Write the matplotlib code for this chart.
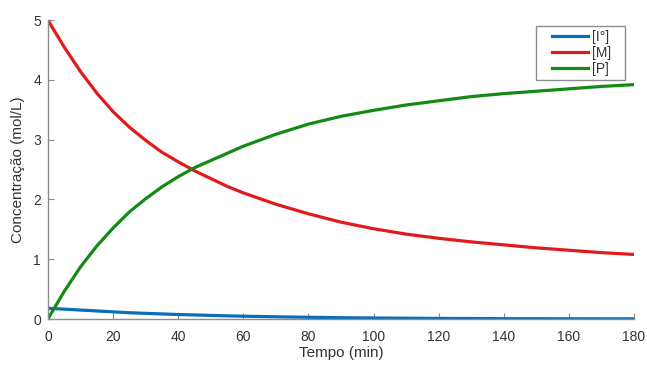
import matplotlib
matplotlib.use("Agg")
import matplotlib.pyplot as plt
from matplotlib.patches import Rectangle

# valores (tempo em min, concentracoes em mol/L)
t = [0, 5, 10, 15, 20, 25, 30, 35, 40, 45, 50, 55, 60,
     70, 80, 90, 100, 110, 120, 130, 140, 150, 160, 170, 180]
I0 = [0.18, 0.165, 0.15, 0.135, 0.12, 0.105, 0.095, 0.085, 0.075, 0.068, 0.06, 0.053, 0.047,
      0.037, 0.029, 0.022, 0.017, 0.013, 0.01, 0.008, 0.006, 0.005, 0.004, 0.003, 0.003]
M = [5.0, 4.55, 4.14, 3.78, 3.47, 3.21, 2.99, 2.79, 2.63, 2.48, 2.35, 2.22, 2.11,
     1.92, 1.76, 1.62, 1.51, 1.42, 1.35, 1.29, 1.24, 1.19, 1.15, 1.11, 1.08]
P = [0.0, 0.46, 0.87, 1.22, 1.52, 1.79, 2.01, 2.21, 2.38, 2.53, 2.65, 2.77, 2.89,
     3.09, 3.26, 3.39, 3.49, 3.58, 3.65, 3.72, 3.77, 3.81, 3.85, 3.89, 3.92]
labels = ['[I\u00b0]', '[M]', '[P]']

plt.rcParams['font.family'] = ['Liberation Sans', 'DejaVu Sans']

fig = plt.figure(figsize=(6.47, 3.65), dpi=100)
ax = fig.add_axes([0.074, 0.126, 0.906, 0.819])

ax.plot(t, I0, color='#0a6db8', lw=2.3, label=labels[0])
ax.plot(t, M, color='#e01b1b', lw=2.3, label=labels[1])
ax.plot(t, P, color='#138a13', lw=2.3, label=labels[2])

ax.set_xlim(0, 180)
ax.set_ylim(0, 5)
ax.set_xticks(range(0, 181, 20))
ax.set_yticks(range(0, 6))

for s in ['top', 'right']:
    ax.spines[s].set_visible(False)
for s in ['left', 'bottom']:
    ax.spines[s].set_color('#8c8c8c')
    ax.spines[s].set_linewidth(1.0)

ax.tick_params(direction='in', length=4, color='#8c8c8c', labelsize=10, labelcolor='#333333')
ax.tick_params(axis='x', pad=8)
ax.tick_params(axis='y', pad=5)
ax.set_xlabel('Tempo (min)', fontsize=11, color='#333333', labelpad=1.5)
ax.set_ylabel('Concentração (mol/L)', fontsize=11, color='#333333', labelpad=6)

# legenda sem moldura; moldura desenhada a parte (mais larga dos lados)
leg = ax.legend(loc='upper right', bbox_to_anchor=(611 / 647, 1 - 30 / 365),
                bbox_transform=fig.transFigure, fontsize=10, frameon=False,
                handlelength=2.6, handletextpad=0.3, borderpad=0,
                labelspacing=0.15, borderaxespad=0)
for txt in leg.get_texts():
    txt.set_color('#333333')

fig.canvas.draw()
bb = leg.get_window_extent()
x0, y0 = fig.transFigure.inverted().transform((bb.x0 - 16, bb.y0 - 4))
x1, y1 = fig.transFigure.inverted().transform((bb.x1 + 14, bb.y1 + 4))
fig.add_artist(Rectangle((x0, y0), x1 - x0, y1 - y0, transform=fig.transFigure,
                         facecolor='none', edgecolor='#8c8c8c', lw=1.0))

fig.savefig('out.png', dpi=100)
